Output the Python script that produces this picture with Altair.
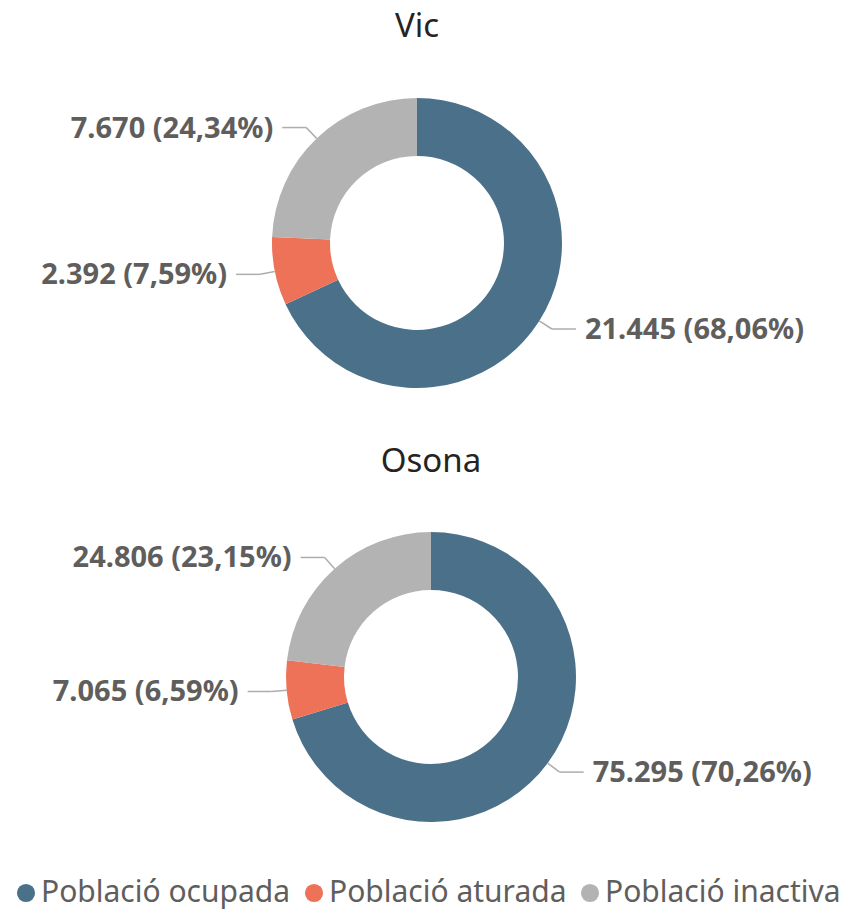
import altair as alt
import pandas as pd

# ---- data ----
regions = ["Vic", "Osona"]
categories = ["Població ocupada", "Població aturada", "Població inactiva"]
vic_values = [21445, 2392, 7670]
osona_values = [75295, 7065, 24806]
colors = ["#4B718A", "#ED7258", "#B3B3B3"]


def fmt_label(v, total):
    num = f"{v:,}".replace(",", ".")
    pct = f"{v / total * 100:.2f}".replace(".", ",")
    return f"{num} ({pct}%)"


rows = []
for region, vals in zip(regions, [vic_values, osona_values]):
    total = sum(vals)
    for i, (c, v) in enumerate(zip(categories, vals)):
        rows.append(dict(region=region, category=c, value=v, idx=i,
                         label=fmt_label(v, total)))
df = pd.DataFrame(rows)
titles_df = pd.DataFrame({"region": regions})

# ---- style ----
FONT = "Noto Sans"
LABEL_COLOR = "#5F5E5C"
LINE_COLOR = "#ADADAD"
R_IN, R_OUT = 87, 145
ELBOW = 15
ARM = 24
GAP = 9

legend = alt.Legend(
    orient="none", legendX=3, legendY=870, direction="horizontal", title=None,
    symbolType="circle", symbolSize=330, symbolStrokeWidth=0, symbolOpacity=1,
    labelFont=FONT, labelFontSize=30, labelColor=LABEL_COLOR, labelOffset=0,
    columnPadding=8, padding=0, labelLimit=400,
)


def panel(region, cx, cy, tx, ty):
    base = alt.Chart(df).transform_filter(alt.datum.region == region)
    arcs = base.mark_arc(innerRadius=R_IN, outerRadius=R_OUT).encode(
        theta=alt.Theta("value:Q", stack="normalize"),
        color=alt.Color("category:N",
                        scale=alt.Scale(domain=categories, range=colors),
                        legend=legend),
        order=alt.Order("idx:Q"),
        x=alt.value(cx),
        y=alt.value(cy),
    )
    geo = (
        base.transform_joinaggregate(total="sum(value)")
        .transform_window(cum="sum(value)", sort=[alt.SortField("idx")],
                          frame=[None, 0])
        .transform_calculate(mid="2*PI*(datum.cum - datum.value/2)/datum.total")
        .transform_calculate(s="sin(datum.mid)", c="cos(datum.mid)")
        .transform_calculate(
            x0=f"{cx} + {R_OUT}*datum.s",
            y0=f"{cy} - {R_OUT}*datum.c",
            x1=f"{cx} + {R_OUT + ELBOW}*datum.s",
            y1=f"{cy} - {R_OUT + ELBOW}*datum.c",
            side="datum.s >= 0 ? 1 : -1",
        )
        .transform_calculate(x2=f"datum.x1 + datum.side*{ARM}")
        .transform_calculate(tx=f"datum.x2 + datum.side*{GAP}",
                             ty="datum.y1 + 1")
    )
    rule1 = geo.mark_rule(color=LINE_COLOR, strokeWidth=1.5).encode(
        x=alt.X("x0:Q", scale=None, axis=None),
        y=alt.Y("y0:Q", scale=None, axis=None),
        x2="x1:Q", y2="y1:Q",
    )
    rule2 = geo.mark_rule(color=LINE_COLOR, strokeWidth=1.5).encode(
        x=alt.X("x1:Q", scale=None, axis=None),
        y=alt.Y("y1:Q", scale=None, axis=None),
        x2="x2:Q", y2="y1:Q",
    )
    text_style = dict(baseline="middle", font=FONT, fontSize=29,
                      fontWeight="bold", color=LABEL_COLOR)
    right = geo.transform_filter("datum.side > 0").mark_text(
        align="left", **text_style).encode(
        x=alt.X("tx:Q", scale=None, axis=None),
        y=alt.Y("ty:Q", scale=None, axis=None),
        text="label:N",
    )
    left = geo.transform_filter("datum.side < 0").mark_text(
        align="right", **text_style).encode(
        x=alt.X("tx:Q", scale=None, axis=None),
        y=alt.Y("ty:Q", scale=None, axis=None),
        text="label:N",
    )
    title = alt.Chart(titles_df).transform_filter(
        alt.datum.region == region).mark_text(
        align="center", baseline="alphabetic", font=FONT, fontSize=33,
        color="#252423").encode(
        text="region:N", x=alt.value(tx), y=alt.value(ty))
    return [arcs, rule1, rule2, right, left, title]


layers = panel("Vic", 409, 235, 409, 29) + panel("Osona", 423, 669, 423, 464)

chart = (
    alt.layer(*layers)
    .properties(width=846, height=901, padding=0, autosize="none")
    .configure_view(stroke=None)
)

chart.save("out.html", embed_options={"renderer": "svg", "actions": False})
